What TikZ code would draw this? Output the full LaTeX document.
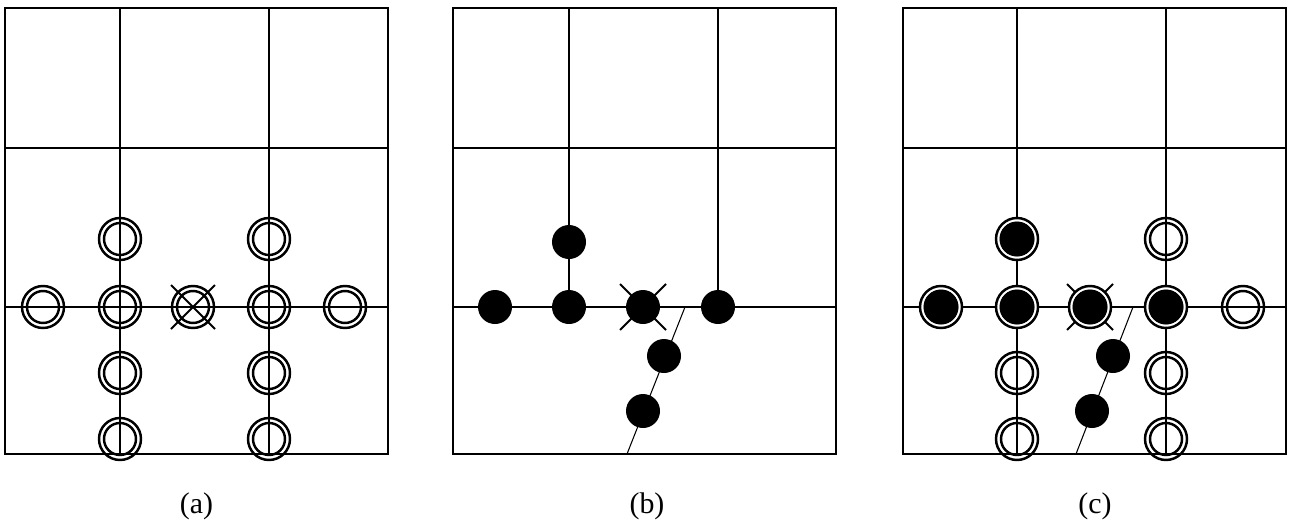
\documentclass[tikz,border=0pt]{standalone}
\usepackage{fontspec}
\setmainfont{Liberation Serif}

\begin{document}
\begin{tikzpicture}[x=0.02cm, y=-0.02cm,
    gridline/.style={draw=black, line width=1.1pt},
    slantline/.style={draw=black, line width=0.6pt},
    ringline/.style={draw=black, line width=1.4pt},
    crossline/.style={draw=black, line width=1.1pt},
    stone/.style={fill=black, draw=none},
    caption/.style={font=\fontsize{17}{19}\selectfont, inner sep=0pt}]
    \useasboundingbox (0,0) rectangle (1290,524);

    % (a)
    \begin{scope}[shift={(5,0)}]
    \draw[gridline] (0,8) rectangle (383,454);
    \draw[gridline] (0,148) -- (383,148);
    \draw[gridline] (0,307) -- (383,307);
    \draw[gridline] (115,8) -- (115,454);
    \draw[gridline] (264,8) -- (264,454);
    \draw[crossline] (166,285) -- (210,329);
    \draw[crossline] (166,329) -- (210,285);
    \draw[ringline] (38,307) circle (21) (38,307) circle (16);
    \draw[ringline] (115,239) circle (21) (115,239) circle (16);
    \draw[ringline] (115,307) circle (21) (115,307) circle (16);
    \draw[ringline] (115,373) circle (21) (115,373) circle (16);
    \draw[ringline] (115,439) circle (21) (115,439) circle (16);
    \draw[ringline] (188,307) circle (21) (188,307) circle (16);
    \draw[ringline] (264,239) circle (21) (264,239) circle (16);
    \draw[ringline] (264,307) circle (21) (264,307) circle (16);
    \draw[ringline] (264,373) circle (21) (264,373) circle (16);
    \draw[ringline] (264,439) circle (21) (264,439) circle (16);
    \draw[ringline] (340,307) circle (21) (340,307) circle (16);
    \node[caption] (capA) at (191.5,506) {(a)};
    \end{scope}

    % (b)
    \begin{scope}[shift={(453,0)}]
    \draw[gridline] (0,8) rectangle (383,454);
    \draw[gridline] (0,148) -- (383,148);
    \draw[gridline] (0,307) -- (383,307);
    \draw[gridline] (116,8) -- (116,307);
    \draw[gridline] (265,8) -- (265,307);
    \draw[slantline] (232,307) -- (174,454);
    \draw[crossline] (167,284) -- (213,330);
    \draw[crossline] (167,330) -- (213,284);
    \fill[stone] (42,307) circle (17);
    \fill[stone] (116,242) circle (17);
    \fill[stone] (116,307) circle (17);
    \fill[stone] (190,307) circle (17);
    \fill[stone] (265,307) circle (17);
    \fill[stone] (211,356) circle (17);
    \fill[stone] (190,411) circle (17);
    \node[caption] (capB) at (194,506) {(b)};
    \end{scope}

    % (c)
    \begin{scope}[shift={(903,0)}]
    \draw[gridline] (0,8) rectangle (383,454);
    \draw[gridline] (0,148) -- (383,148);
    \draw[gridline] (0,307) -- (383,307);
    \draw[gridline] (114,8) -- (114,454);
    \draw[gridline] (263,8) -- (263,454);
    \draw[slantline] (230,307) -- (173,454);
    \draw[crossline] (164,284) -- (210,330);
    \draw[crossline] (164,330) -- (210,284);
    \filldraw[ringline, fill=white] (38,307) circle (21) (38,307) circle (16);
    \filldraw[ringline, fill=white] (114,239) circle (21) (114,239) circle (16);
    \filldraw[ringline, fill=white] (114,307) circle (21) (114,307) circle (16);
    \draw[ringline] (114,373) circle (21) (114,373) circle (16);
    \draw[ringline] (114,439) circle (21) (114,439) circle (16);
    \filldraw[ringline, fill=white] (187,307) circle (21) (187,307) circle (16);
    \draw[ringline] (263,239) circle (21) (263,239) circle (16);
    \filldraw[ringline, fill=white] (263,307) circle (21) (263,307) circle (16);
    \draw[ringline] (263,373) circle (21) (263,373) circle (16);
    \draw[ringline] (263,439) circle (21) (263,439) circle (16);
    \draw[ringline] (340,307) circle (21) (340,307) circle (16);
    \fill[stone] (38,307) circle (17.5);
    \fill[stone] (114,239) circle (17.5);
    \fill[stone] (114,307) circle (17.5);
    \fill[stone] (187,307) circle (17.5);
    \fill[stone] (263,307) circle (17.5);
    \fill[stone] (210,356) circle (17);
    \fill[stone] (189,411) circle (17);
    \node[caption] (capC) at (192,506) {(c)};
    \end{scope}
\end{tikzpicture}
\end{document}
